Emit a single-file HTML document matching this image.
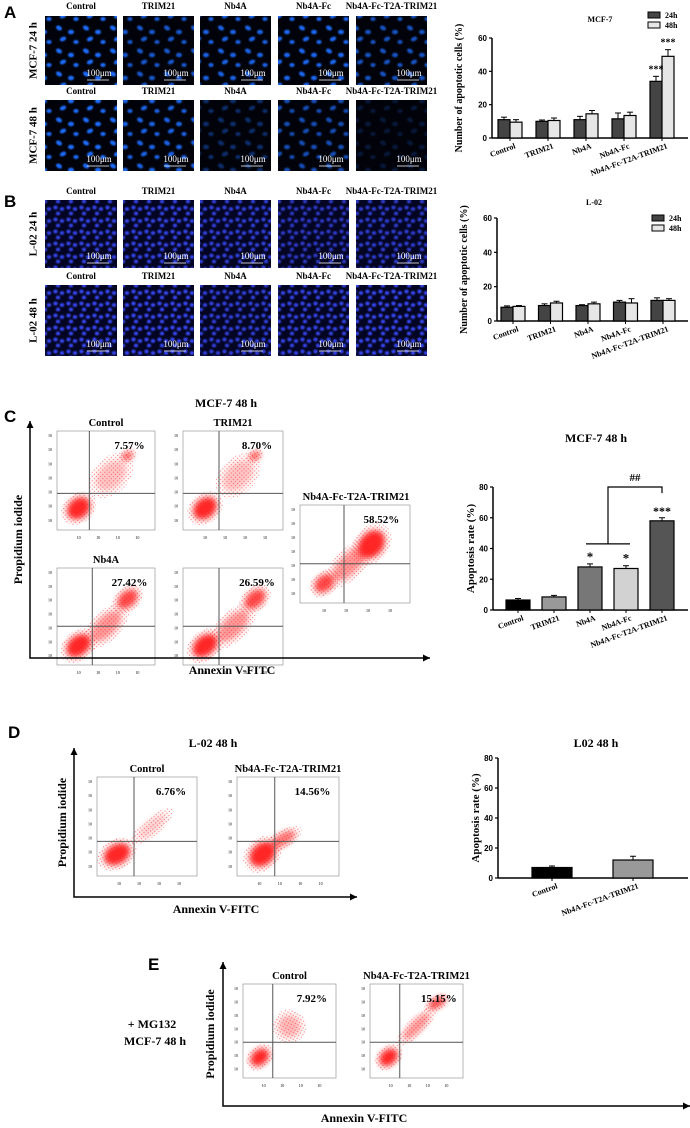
<!DOCTYPE html>
<html><head><meta charset="utf-8"><style>
html,body{margin:0;padding:0;background:#fff}
svg{display:block;font-family:"Liberation Serif",serif}
</style></head><body>
<svg id="fig" width="690" height="1128" viewBox="0 0 690 1128" xmlns="http://www.w3.org/2000/svg">
<defs>
<filter id="blur1" x="-20%" y="-20%" width="140%" height="140%"><feGaussianBlur stdDeviation="0.7"/></filter>
<filter id="blur3" x="-50%" y="-50%" width="200%" height="200%"><feGaussianBlur stdDeviation="3"/></filter>
<pattern id="pm" width="27" height="23" patternUnits="userSpaceOnUse">
<rect width="27" height="23" fill="#02030a"/>
<g filter="url(#blur1)" fill="#1f6dff">
<ellipse cx="5" cy="5" rx="3.2" ry="2.2" transform="rotate(30 5 5)"/>
<ellipse cx="17" cy="9" rx="3" ry="2.3"/>
<ellipse cx="9" cy="16" rx="3.3" ry="2.1" transform="rotate(-25 9 16)"/>
<ellipse cx="22" cy="19" rx="2.6" ry="2"/>
</g></pattern>
<pattern id="pl" width="13" height="12" patternUnits="userSpaceOnUse">
<rect width="13" height="12" fill="#040522"/>
<g filter="url(#blur1)" fill="#3b4cff">
<ellipse cx="3.5" cy="3.5" rx="2.2" ry="2"/>
<ellipse cx="10" cy="5" rx="2.2" ry="1.9"/>
<ellipse cx="6" cy="9.5" rx="2.1" ry="1.9"/>
</g></pattern>
<pattern id="pd" width="3" height="3" patternUnits="userSpaceOnUse">
<circle cx="1" cy="1" r="0.6" fill="#ff2020"/>
</pattern>
</defs>
<g id="root"></g>
</svg>
<script>
// ---------- Chart data ----------
const groupsA = ["Control","TRIM21","Nb4A","Nb4A-Fc","Nb4A-Fc-T2A-TRIM21"];
const mcf24 = [11,10,11,11.5,34];
const mcf24Err = [1.5,0.8,2,3.5,3];
const mcf48 = [9.5,10.5,14.5,13.5,49];
const mcf48Err = [1.5,1.5,2,2,4];
const l0224 = [8,9,9,11,12];
const l0224Err = [0.8,1,0.5,1,1.5];
const l0248 = [8.5,10.5,10,10.5,12];
const l0248Err = [0.5,1,1,2.5,1];
const ticksA = [0,20,40,60];
const groupsC = ["Control","TRIM21","Nb4A","Nb4A-Fc","Nb4A-Fc-T2A-TRIM21"];
const rateC = [6.5,8.5,28,27,58];
const rateCErr = [1,1,2,1.8,2];
const ticksC = [0,20,40,60,80];
const groupsD = ["Control","Nb4A-Fc-T2A-TRIM21"];
const rateD = [7,12];
const rateDErr = [1,2.5];

const NS="http://www.w3.org/2000/svg";
const root=document.getElementById('root');
function el(tag,attrs,parent,text){const e=document.createElementNS(NS,tag);for(const k in attrs)e.setAttribute(k,attrs[k]);if(text!==undefined)e.textContent=text;(parent||root).appendChild(e);return e;}
function txt(x,y,s,size,parent,extra){const t=el('text',Object.assign({x:x,y:y,'font-size':size,'font-weight':'bold','text-anchor':'middle',fill:'#000'},extra||{}),parent,s);return t;}

// panel letters
[["A",4,18],["B",4,207],["C",4,422],["D",8,738],["E",148,970]].forEach(p=>{
 const t=el('text',{x:p[1],y:p[2],'font-size':17,'font-weight':'bold','font-family':'Liberation Sans, sans-serif'},root,p[0]);
 
 
});

// ---------- Microscopy ----------
const micCols=[[45,72],[123,71],[200,71],[278,71],[356,71]];
const micRows=[
 {y:16,h:69,lab:9,row:"MCF-7  24 h",p:"pm",op:[1,0.8,0.9,0.95,0.75]},
 {y:100,h:71,lab:94,row:"MCF-7  48 h",p:"pm",op:[1,0.9,0.4,0.7,0.2]},
 {y:200,h:68,lab:194,row:"L-02  24 h",p:"pl",op:[0.9,0.9,0.85,0.75,0.8]},
 {y:285,h:71,lab:279,row:"L-02  48 h",p:"pl",op:[0.95,0.95,0.85,0.9,0.95]}];
micRows.forEach((r,ri)=>{
 const g=el('g',{});
 
 
 const rl=txt(0,0,r.row,11,g,{transform:`translate(34,${r.y+r.h/2}) rotate(-90)`});
 rl.setAttribute('dominant-baseline','middle');
 micCols.forEach((c,ci)=>{
  const ig=el('g',{},g);
  
  
  el('rect',{x:c[0],y:r.y,width:c[1],height:r.h,fill:r.p=="pm"?'#02030a':'#040522'},ig);
  el('rect',{x:c[0],y:r.y,width:c[1],height:r.h,fill:`url(#${r.p})`,opacity:r.op[ci]},ig);
  txt(c[0]+c[1]/2,r.lab,groupsA[ci],9,ig);
  txt(c[0]+c[1]-18,r.y+r.h-9,"100μm",9,ig,{fill:'#fff','font-weight':'normal'});
  el('line',{x1:c[0]+c[1]-30,x2:c[0]+c[1]-8,y1:r.y+r.h-5,y2:r.y+r.h-5,stroke:'#fff','stroke-width':0.8},ig);
 });
});

// ---------- Bar chart helper ----------
function barChart(cfg){
 const g=el('g',{});
 
 
 const ymax=cfg.ticks[cfg.ticks.length-1];
 const Y=v=>cfg.y0-(v/ymax)*(cfg.y0-cfg.yTop);
 const n=cfg.groups.length;
 const step=cfg.step||(cfg.xRight-cfg.x0)/n;
 const first=cfg.first||(cfg.x0+step*0.5);
 const X=i=>first+step*i;
 const ax=el('g',{},g);
 el('line',{x1:cfg.x0,x2:cfg.x0,y1:Y(ymax),y2:cfg.y0,stroke:'#000','stroke-width':1.5},ax);
 el('line',{x1:cfg.x0,x2:cfg.xRight,y1:cfg.y0,y2:cfg.y0,stroke:'#000','stroke-width':1.5},g);
 cfg.ticks.forEach(t=>{
  el('line',{x1:cfg.x0-3,x2:cfg.x0,y1:Y(t),y2:Y(t),stroke:'#000','stroke-width':1.2},ax);
  const tl=el('text',{x:cfg.x0-5,y:Y(t)+3,'font-size':8,'font-weight':'bold','text-anchor':'end','font-family':'Liberation Sans, sans-serif'},ax,String(t));
  
 });
 const yl=txt(0,0,cfg.ylabel,cfg.ylSize||10,g,{transform:`translate(${cfg.ylx},${(Y(ymax)+cfg.y0)/2}) rotate(-90)`,'font-weight':'bold'});
 
 const tt=txt(cfg.titleX,cfg.titleY,cfg.title,cfg.titleSize||8,g);
 
 cfg.groups.forEach((gname,i)=>{
  const cx=X(i);
  cfg.series.forEach((s,si)=>{
   const ns=cfg.series.length;
   const bx=cx-ns*cfg.bw/2+si*cfg.bw;
   const v=s.vals[i],e=s.err[i];
   el('line',{x1:bx+cfg.bw/2,x2:bx+cfg.bw/2,y1:Y(v),y2:Y(v+e),stroke:'#000','stroke-width':1},g);
   el('line',{x1:bx+cfg.bw/2-3,x2:bx+cfg.bw/2+3,y1:Y(v+e),y2:Y(v+e),stroke:'#000','stroke-width':1},g);
   const b=el('rect',{x:bx,y:Y(v),width:cfg.bw,height:cfg.y0-Y(v),fill:s.colors?s.colors[i]:s.color,stroke:'#000','stroke-width':1.2},g);
   
   
  });
  el('line',{x1:cx,x2:cx,y1:cfg.y0,y2:cfg.y0+3,stroke:'#000'},g);
  const xl=el('text',{x:0,y:0,'font-size':8,'font-weight':'bold','text-anchor':'end',transform:`translate(${cx+6},${cfg.y0+10}) rotate(-20)`},g,gname);
  
 });
 return {g,X,Y};
}

// A chart
const A=barChart({name:'mcf7-apoptotic-chart',groups:groupsA,x0:492,xRight:688,y0:138,yTop:38,ticks:ticksA,bw:12,step:38,first:510,
 ylabel:'Number of apoptotic cells (%)',ylx:462,title:'MCF-7',titleX:600,titleY:22,
 series:[{key:'24h',vals:mcf24,err:mcf24Err,color:'#444'},{key:'48h',vals:mcf48,err:mcf48Err,color:'#e6e6e6'}]});
txt(A.X(4)-6,A.Y(mcf24[4]+mcf24Err[4])-4,'***',10,A.g);
txt(A.X(4)+6,A.Y(mcf48[4]+mcf48Err[4])-4,'***',10,A.g);
// B chart
const B=barChart({name:'l02-apoptotic-chart',groups:groupsA,x0:497,xRight:688,y0:321,yTop:218,ticks:ticksA,bw:12,step:37.5,first:513,
 ylabel:'Number of apoptotic cells (%)',ylx:467,title:'L-02',titleX:594,titleY:205,
 series:[{key:'24h',vals:l0224,err:l0224Err,color:'#444'},{key:'48h',vals:l0248,err:l0248Err,color:'#e6e6e6'}]});
function legend(x,y){
 const lg=el('g',{});
 [['24h','#444'],['48h','#e6e6e6']].forEach((l,i)=>{
  const e=el('g',{},lg);
  el('rect',{x:x,y:y+i*10-6,width:12,height:6,fill:l[1],stroke:'#000','stroke-width':1},e);
  el('text',{x:x+17,y:y+i*10,'font-size':8,'font-weight':'bold'},e,l[0]);
 });
}
legend(648,18);legend(652,221);

// C chart
const C=barChart({name:'mcf7-apoptosis-rate-chart',groups:groupsC,x0:493,xRight:688,y0:610,yTop:487,ticks:ticksC,bw:24,step:36,first:518,
 ylabel:'Apoptosis rate (%)',ylSize:11,ylx:474,title:'MCF-7  48 h',titleX:596,titleY:442,titleSize:12,
 series:[{vals:rateC,err:rateCErr,colors:['#000','#999','#777','#d2d2d2','#555']}]});
txt(C.X(2),C.Y(rateC[2]+rateCErr[2])-3,'*',13,C.g);
txt(C.X(3),C.Y(rateC[3]+rateCErr[3])-3,'*',13,C.g);
txt(C.X(4),C.Y(rateC[4]+rateCErr[4])-3,'***',12,C.g);
const mid=(C.X(2)+C.X(3))/2;
el('line',{x1:C.X(2)-4,x2:C.X(3)+4,y1:C.Y(43),y2:C.Y(43),stroke:'#000','stroke-width':1.2},C.g);
el('polyline',{points:`${mid},${C.Y(43)} ${mid},${C.Y(80)} ${C.X(4)},${C.Y(80)} ${C.X(4)},${C.Y(76)}`,fill:'none',stroke:'#000','stroke-width':1.2},C.g);
txt((mid+C.X(4))/2,C.Y(80)-6,'##',11,C.g);
// D chart
barChart({name:'l02-apoptosis-rate-chart',groups:groupsD,x0:498,xRight:688,y0:878,yTop:758,ticks:ticksC,bw:40,step:81,first:552,
 ylabel:'Apoptosis rate (%)',ylSize:11,ylx:479,title:'L02 48 h',titleX:596,titleY:747,titleSize:12,
 series:[{vals:rateD,err:rateDErr,colors:['#000','#999']}]});

// ---------- Flow cytometry ----------
function flow(name,x,y,w,h,vf,hf,pct,label,blobs,labX){
 const g=el('g',{});
 if(label){const l=txt(labX||x+w/2,y-5,label,10.5,g);}
 el('rect',{x:x,y:y,width:w,height:h,fill:'#fff',stroke:'#888','stroke-width':0.6},g);
 const cp='cp'+name;
 const c=el('clipPath',{id:cp},g);el('rect',{x:x,y:y,width:w,height:h},c);
 const bg=el('g',{'clip-path':`url(#${cp})`},g);
 blobs.forEach(b=>{
  const cx=x+b[0]*w,cy=y+b[1]*h,rx=b[2]*w,ry=b[3]*h,a=b[4];
  el('ellipse',{cx,cy,rx:rx*1.5,ry:ry*1.5,fill:'url(#pd)',opacity:0.6,transform:`rotate(${a} ${cx} ${cy})`},bg);
  el('ellipse',{cx,cy,rx,ry,fill:'#ff1a1a',opacity:b[5],filter:'url(#blur3)',transform:`rotate(${a} ${cx} ${cy})`},bg);
 });
 el('line',{x1:x+vf*w,x2:x+vf*w,y1:y,y2:y+h,stroke:'#555','stroke-width':1},g);
 el('line',{x1:x,x2:x+w,y1:y+hf*h,y2:y+hf*h,stroke:'#555','stroke-width':1},g);
 const p=txt(x+w*0.74,y+18,pct,11,g);
 for(let i=0;i<7;i++)el('text',{x:x-9,y:y+6+i*h/7,'font-size':4},g,'10');
 for(let i=0;i<4;i++)el('text',{x:x+w*(0.2+i*0.2),y:y+h+9,'font-size':4},g,'10');
}
const blobCtl=[[0.22,0.78,0.13,0.1,-40,0.95],[0.55,0.45,0.18,0.12,-45,0.25],[0.72,0.25,0.06,0.04,-30,0.7]];
const blobMid=[[0.22,0.8,0.14,0.1,-40,0.95],[0.5,0.6,0.2,0.1,-45,0.45],[0.72,0.32,0.12,0.08,-40,0.8]];
const blobHigh=[[0.22,0.8,0.1,0.08,-40,0.8],[0.45,0.6,0.2,0.1,-45,0.45],[0.65,0.4,0.14,0.12,-50,0.95]];
flow('flow-c-control',57,431,98,99,0.33,0.63,'7.57%','Control',blobCtl);
flow('flow-c-trim21',183,431,100,99,0.36,0.63,'8.70%','TRIM21',blobCtl);
flow('flow-c-nb4a',57,568,98,97,0.36,0.6,'27.42%','Nb4A',blobMid);
flow('flow-c-nb4a-fc',183,568,100,97,0.36,0.6,'26.59%','',blobMid);
flow('flow-c-nb4a-fc-t2a-trim21',300,505,110,98,0.4,0.6,'58.52%','Nb4A-Fc-T2A-TRIM21',blobHigh,356);
flow('flow-d-control',97,777,100,99,0.37,0.65,'6.76%','Control',[[0.2,0.78,0.14,0.1,-30,0.95],[0.55,0.5,0.18,0.06,-40,0.2]]);
flow('flow-d-trim21',237,777,102,99,0.37,0.65,'14.56%','Nb4A-Fc-T2A-TRIM21',[[0.25,0.78,0.14,0.11,-40,0.95],[0.45,0.63,0.14,0.06,-30,0.6]]);
flow('flow-e-control',243,984,93,94,0.32,0.62,'7.92%','Control',[[0.18,0.78,0.11,0.08,-40,0.95],[0.5,0.45,0.12,0.12,-60,0.3]]);
flow('flow-e-trim21',370,984,93,94,0.32,0.62,'15.15%','Nb4A-Fc-T2A-TRIM21',[[0.2,0.78,0.11,0.08,-40,0.95],[0.5,0.45,0.2,0.06,-45,0.45],[0.72,0.2,0.1,0.05,-30,0.8]]);

function axes(name,x0,yTop,y0,xEnd,xLab,yLabX,title,titleX,titleY){
 const g=el('g',{});
 el('polyline',{points:`${x0},${yTop} ${x0},${y0} ${xEnd},${y0}`,fill:'none',stroke:'#000','stroke-width':1.5},g);
 el('polygon',{points:`${x0-3.5},${yTop+7} ${x0},${yTop} ${x0+3.5},${yTop+7}`,fill:'#000'},g);
 el('polygon',{points:`${xEnd-7},${y0-3.5} ${xEnd},${y0} ${xEnd-7},${y0+3.5}`,fill:'#000'},g);
 const xl=txt(xLab,y0+16,'Annexin V-FITC',12,g);
 const yl=txt(0,0,'Propidium iodide',12,g,{transform:`translate(${yLabX},${(yTop+y0)/2}) rotate(-90)`});
 
 if(title){const t=txt(titleX,titleY,title,12,g);}
}
axes('flow-axes-c',30,421,658,430,232,22,'MCF-7  48 h',226,407);
axes('flow-axes-d',74,748,897,357,216,66,'L-02   48 h',213,747);
axes('flow-axes-e',223,962,1106,690,364,214,null);
txt(152,1028,'+ MG132',12,root);
txt(155,1045,'MCF-7   48 h',12,root);
</script>
</body></html>
